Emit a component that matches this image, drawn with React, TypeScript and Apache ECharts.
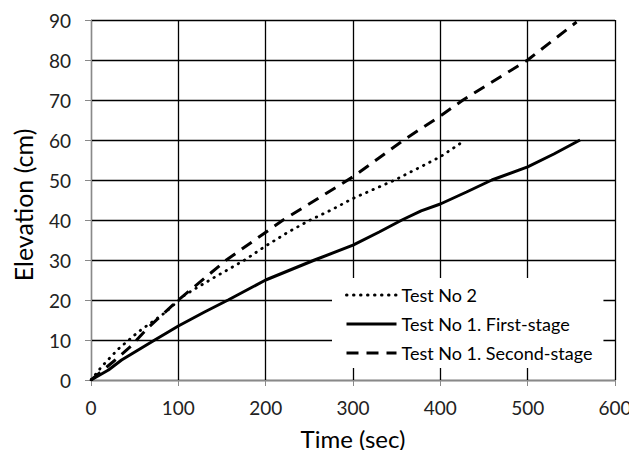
import React, { useEffect, useRef } from "react";
import * as echarts from "echarts";

// Axis ranges / ticks
const X_MIN = 0;
const X_MAX = 600;
const X_STEP = 100;
const Y_MIN = 0;
const Y_MAX = 90;
const Y_STEP = 10;

const xTitle = "Time (sec)";
const yTitle = "Elevation (cm)";

const seriesNames = [
  "Test No 2",
  "Test No 1. First-stage",
  "Test No 1. Second-stage",
];

// [time (sec), elevation (cm)]
const test2: [number, number][] = [
  [0, 0], [12, 3.3], [31, 7.7], [54, 12], [84, 16.7], [107, 21.2],
  [140, 25.5], [176, 30], [200, 33.5], [226, 37], [251, 40], [275, 42.5],
  [300, 45.4], [325, 47.8], [348, 50], [375, 53], [400, 55.8], [426, 59.6],
];

const test1First: [number, number][] = [
  [0, 0], [20, 2.5], [35, 5], [73, 10], [100, 13.5], [130, 17], [157, 20],
  [200, 25], [256, 30], [300, 33.7], [330, 37], [356, 40], [378, 42.3],
  [400, 44], [430, 47], [459, 50], [500, 53.3], [530, 56.5], [560, 60],
];

const test1Second: [number, number][] = [
  [0, 0], [25, 4.5], [46, 8.5], [65, 13], [100, 20], [155, 30], [220, 40],
  [300, 50.8], [358, 60], [400, 66], [426, 70], [500, 80], [556, 89.5],
];

const FONT = "Lato, 'Noto Sans', sans-serif";
const AXIS_GREY = "#898989";

export default function App() {
  const ref = useRef<HTMLDivElement>(null);

  useEffect(() => {
    if (!ref.current) return;
    const chart = echarts.init(ref.current, undefined, { renderer: "svg" });
    const option: any = {
      animation: false,
      backgroundColor: "#fff",
      grid: { left: 91, right: 22, top: 20, bottom: 78 },
      xAxis: {
        type: "value",
        min: X_MIN,
        max: X_MAX,
        interval: X_STEP,
        name: xTitle,
        nameLocation: "middle",
        nameGap: 46,
        nameTextStyle: { fontSize: 24, color: "#000", fontFamily: FONT },
        axisLine: { show: true, lineStyle: { color: AXIS_GREY, width: 1 } },
        axisTick: { show: true, length: 6, lineStyle: { color: AXIS_GREY } },
        axisLabel: { margin: 18, fontSize: 19, color: "#222", fontFamily: FONT },
        splitLine: { show: true, lineStyle: { color: "#000", width: 1.3 } },
      },
      yAxis: {
        type: "value",
        min: Y_MIN,
        max: Y_MAX,
        interval: Y_STEP,
        axisLine: { show: true, lineStyle: { color: AXIS_GREY, width: 1 } },
        axisTick: { show: true, length: 6, lineStyle: { color: AXIS_GREY } },
        axisLabel: { margin: 20, fontSize: 19, color: "#222", fontFamily: FONT },
        splitLine: { show: true, lineStyle: { color: "#000", width: 1.3 } },
      },
      graphic: [
        {
          type: "text",
          x: 23,
          y: 205,
          rotation: Math.PI / 2,
          style: {
            text: yTitle,
            fontSize: 25,
            fill: "#000",
            fontFamily: FONT,
            textAlign: "center",
            textVerticalAlign: "middle",
          },
        },
      ],
      legend: {
        orient: "vertical",
        left: 332,
        top: 278,
        padding: [7, 11, 5, 13],
        itemWidth: 50,
        itemHeight: 14,
        itemGap: 9,
        backgroundColor: "#fff",
        textStyle: { fontSize: 18, color: "#000", fontFamily: FONT, lineHeight: 20 },
        itemStyle: { opacity: 0 },
        lineStyle: { width: 3 },
        data: seriesNames,
      },
      series: [
        {
          name: seriesNames[0],
          type: "line",
          symbol: "none",
          data: test2,
          lineStyle: { color: "#000", width: 2.8, type: [0.5, 6.5], cap: "round" },
          itemStyle: { color: "#000" },
        },
        {
          name: seriesNames[1],
          type: "line",
          symbol: "none",
          data: test1First,
          lineStyle: { color: "#000", width: 3, type: "solid" },
          itemStyle: { color: "#000" },
        },
        {
          name: seriesNames[2],
          type: "line",
          symbol: "none",
          data: test1Second,
          lineStyle: { color: "#000", width: 3, type: [12, 8] },
          itemStyle: { color: "#000" },
        },
      ],
    };
    chart.setOption(option);
    return () => chart.dispose();
  }, []);

  return <div ref={ref} style={{ width: 637, height: 458, margin: -8 }} />;
}
